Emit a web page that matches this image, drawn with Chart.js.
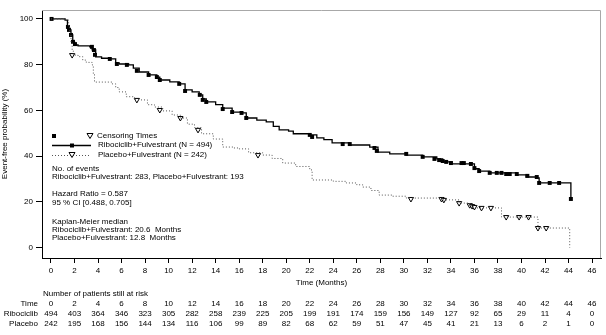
<!DOCTYPE html>
<html>
<head>
<meta charset="utf-8">
<script src="https://cdn.jsdelivr.net/npm/chart.js@4.4.0/dist/chart.umd.min.js"></script>
<style>
  html, body { margin: 0; padding: 0; background: #fff; }
  #wrap { width: 606px; height: 335px; }
</style>
</head>
<body>
<div id="wrap"><canvas id="kmChart" width="606" height="335"></canvas></div>
<script>
// x axis ticks and number-at-risk table
let xTicks = [0, 2, 4, 6, 8, 10, 12, 14, 16, 18, 20, 22, 24, 26, 28, 30, 32, 34, 36, 38, 40, 42, 44, 46];
let yTicks = [0, 20, 40, 60, 80, 100];
let riboRisk = [494, 403, 364, 346, 323, 305, 282, 258, 239, 225, 205, 199, 191, 174, 159, 156, 149, 127, 92, 65, 29, 11, 4, 0];
let placRisk = [242, 195, 168, 156, 144, 134, 116, 106, 99, 89, 82, 68, 62, 59, 51, 47, 45, 41, 21, 13, 6, 2, 1, 0];

// Kaplan-Meier steps, Ribociclib+Fulvestrant
let riboT = [0, 0.9, 1.2, 1.4, 1.5, 1.7, 1.85, 2.0, 2.3, 3.3, 3.5, 3.8, 4.3, 4.9, 5.5, 5.8, 6.6, 7.0, 7.5, 8.3, 9.0, 9.25,
  10.1, 10.9, 11.4, 12.0, 12.6, 12.9, 13.2, 14.0, 14.6, 15.4, 16.2, 16.6, 17.5, 18.3, 18.9, 19.4, 20.2, 20.6, 22.0, 22.6,
  23.2, 23.9, 25.4, 27.1, 27.8, 28.8, 30.2, 31.6, 32.8, 33.3, 34.1, 36.0, 36.4, 37.3, 39.6, 40.4, 41.3, 41.5, 44.2, 44.2];
let riboS = [100, 100, 99.5, 97, 95.2, 93, 90, 88.6, 88.2, 87.8, 86.5, 83.4, 82.8, 82.5, 80.8, 80.3, 79.9, 78.5, 76.8, 75.5, 74.6, 73.3,
  72.5, 71.6, 69, 68.1, 66.8, 65, 63.7, 62.5, 61, 59.3, 58.9, 56.7, 55.8, 55.0, 53, 51.5, 51, 49.8, 49.3, 48,
  47.2, 45.8, 44.9, 44, 41.8, 41, 40.5, 39.7, 38.8, 37.5, 36.6, 34.5, 33.5, 32.7, 31.8, 30.9, 30.5, 28.3, 28.3, 21.3];

// Kaplan-Meier steps, Placebo+Fulvestrant
let placT = [0, 1.2, 1.5, 1.6, 1.7, 1.8, 1.9, 2.3, 2.7, 3.0, 3.5, 3.6, 3.7, 5.2, 5.5, 5.8, 6.4, 7.1, 8.2, 8.8, 9.5, 10.3,
  11.0, 11.6, 12.2, 12.8, 13.8, 14.6, 15.5, 16.0, 16.8, 18.0, 18.8, 19.7, 20.8, 22.0, 22.2, 24.0, 25.1, 26.0, 26.5, 27.2,
  27.9, 29.0, 30.2, 33.3, 34.7, 35.6, 35.8, 36.2, 38.3, 41.4, 44.1];
let placS = [100, 99.5, 97, 94, 90, 86, 84.2, 83.5, 82, 81, 79.9, 76, 72.4, 71.6, 70, 68.1, 66, 64.6, 62.5, 61.5, 59.8, 58,
  56.7, 54, 52.5, 49.8, 47.5, 44, 43.6, 43.2, 41.5, 40.5, 39, 37, 35.5, 34, 29.6, 29, 28.3, 27.5, 26.5, 25,
  23, 22.5, 21.7, 20.9, 19.5, 18.6, 18.2, 17.4, 13.4, 8.6, 0];

// censoring times
let riboCensT = [0.05, 1.44, 1.53, 1.7, 1.87, 2.04, 3.48, 3.65, 3.74, 5.0, 5.6, 6.45, 7.3, 8.3, 9.0, 9.25, 10.9, 11.4,
  12.65, 12.9, 13.2, 14.6, 15.4, 16.2, 16.6, 22.0, 22.2, 24.8, 25.4, 27.5, 27.7, 30.2, 31.6, 32.6, 33.0, 33.3, 33.6, 34.0,
  34.9, 35.1, 35.7, 36.0, 36.4, 37.3, 37.9, 38.3, 38.7, 39.0, 39.6, 40.5, 41.3, 41.5, 42.4, 43.2, 44.2];
let riboCensS = [100, 96.5, 95.2, 93, 90, 89, 87.8, 86.4, 84.3, 82.5, 80.3, 79.9, 77.3, 75.5, 74.6, 73.3, 71.6, 68.5,
  66.8, 64.6, 63.7, 60.6, 59.3, 58.9, 56.7, 49.3, 48.4, 45.3, 45.3, 43.6, 42.3, 41, 39.7, 38.8, 38.3, 37.9, 37.5, 37,
  37, 37, 36.6, 34.8, 33.5, 32.7, 32.7, 32.7, 32.2, 32.2, 32.2, 31.4, 30.9, 28.3, 28.3, 28.3, 21.3];
let placCensT = [1.8, 7.3, 9.25, 11.0, 12.5, 17.6, 30.6, 33.2, 33.4, 34.7, 35.6, 35.8, 36.0, 36.6, 37.4, 38.7, 39.8, 40.6, 41.4, 42.1];
let placCensS = [84.2, 64.6, 60.2, 56.7, 51.5, 40.5, 21.3, 21.3, 20.9, 19.5, 18.6, 18.2, 17.8, 17.4, 17.4, 13.4, 13.4, 13.4, 8.6, 8.6];

const FONT = '"Liberation Sans", Arial, sans-serif';
const INK = '#000';
const FS = 8;

function pts(t, s) {
  return t.map((v, i) => ({ x: v, y: s[i] }));
}

const kmOverlay = {
  id: 'kmOverlay',
  afterDraw(chart) {
    const ctx = chart.ctx;
    const a = chart.chartArea;
    const xs = chart.scales.x;
    ctx.save();

    // light top/right frame
    ctx.strokeStyle = '#a8a8a8';
    ctx.lineWidth = 1;
    ctx.beginPath();
    ctx.moveTo(a.left, a.top + 0.5);
    ctx.lineTo(a.right - 0.5, a.top + 0.5);
    ctx.lineTo(a.right - 0.5, a.bottom);
    ctx.stroke();

    ctx.fillStyle = INK;
    ctx.font = FS + 'px ' + FONT;
    ctx.textBaseline = 'middle';

    // legend block
    ctx.fillRect(52, 134, 4, 4);
    triangle(ctx, 90, 136);
    ctx.textAlign = 'left';
    ctx.fillText('Censoring Times', 97, 136);

    ctx.strokeStyle = INK;
    ctx.lineWidth = 1.3;
    ctx.beginPath();
    ctx.moveTo(52, 145.5);
    ctx.lineTo(91, 145.5);
    ctx.stroke();
    ctx.fillRect(70, 143.5, 4, 4);
    ctx.fillText('Ribociclib+Fulvestrant (N = 494)', 98, 145);

    ctx.strokeStyle = '#555';
    ctx.lineWidth = 1;
    ctx.setLineDash([1, 2]);
    ctx.beginPath();
    ctx.moveTo(52, 155.5);
    ctx.lineTo(91, 155.5);
    ctx.stroke();
    ctx.setLineDash([]);
    triangle(ctx, 72, 155);
    ctx.fillText('Placebo+Fulvestrant (N = 242)', 98, 155);

    ctx.fillText('No. of events', 52, 169);
    ctx.fillText('Ribociclib+Fulvestrant: 283, Placebo+Fulvestrant: 193', 52, 177);
    ctx.fillText('Hazard Ratio = 0.587', 52, 194);
    ctx.fillText('95 % CI [0.488, 0.705]', 52, 203);
    ctx.fillText('Kaplan-Meier median', 52, 222);
    ctx.fillText('Ribociclib+Fulvestrant: 20.6  Months', 52, 230);
    ctx.fillText('Placebo+Fulvestrant: 12.8  Months', 52, 238);

    // x axis title
    ctx.textAlign = 'center';
    ctx.fillText('Time (Months)', (a.left + a.right) / 2, 283);

    // number at risk
    ctx.textAlign = 'left';
    ctx.fillText('Number of patients still at risk', 43, 294);
    const rows = [['Time', xTicks, 304], ['Ribociclib', riboRisk, 314], ['Placebo', placRisk, 324]];
    rows.forEach(([lab, vals, y]) => {
      ctx.textAlign = 'right';
      ctx.fillText(lab, 38, y);
      ctx.textAlign = 'center';
      vals.forEach((v, i) => ctx.fillText(String(v), xs.getPixelForValue(xTicks[i]), y));
    });
    ctx.restore();
  }
};

function triangle(ctx, x, y) {
  ctx.save();
  ctx.fillStyle = '#fff';
  ctx.strokeStyle = INK;
  ctx.lineWidth = 1;
  ctx.beginPath();
  ctx.moveTo(x - 3, y - 2.5);
  ctx.lineTo(x + 3, y - 2.5);
  ctx.lineTo(x, y + 2.5);
  ctx.closePath();
  ctx.fill();
  ctx.stroke();
  ctx.restore();
}

let ctx = document.getElementById('kmChart').getContext('2d');

let chart = new Chart(ctx, {
  type: 'scatter',
  data: {
    datasets: [
      {
        label: 'Placebo+Fulvestrant',
        data: pts(placT, placS),
        showLine: true,
        stepped: 'before',
        borderColor: '#555',
        borderWidth: 1,
        borderDash: [1, 2],
        pointRadius: 0
      },
      {
        label: 'Ribociclib+Fulvestrant',
        data: pts(riboT, riboS),
        showLine: true,
        stepped: 'before',
        borderColor: INK,
        borderWidth: 1.3,
        pointRadius: 0
      },
      {
        label: 'Ribociclib censored',
        data: pts(riboCensT, riboCensS),
        pointStyle: 'rect',
        pointRadius: 2.8,
        backgroundColor: INK,
        borderColor: INK,
        borderWidth: 0
      },
      {
        label: 'Placebo censored',
        data: pts(placCensT, placCensS),
        pointStyle: 'triangle',
        rotation: 180,
        pointRadius: 3,
        backgroundColor: '#fff',
        borderColor: INK,
        borderWidth: 1
      }
    ]
  },
  options: {
    responsive: false,
    animation: false,
    layout: { padding: { left: 0, right: 4, top: 10, bottom: 0 } },
    plugins: {
      legend: { display: false },
      tooltip: { enabled: false }
    },
    scales: {
      x: {
        type: 'linear',
        min: -0.764,
        max: 46.76,
        afterFit: s => { s.height = 77; },
        afterBuildTicks: s => { s.ticks = xTicks.map(v => ({ value: v })); },
        grid: { display: true, drawOnChartArea: false, drawTicks: true, tickLength: 5, tickColor: INK },
        border: { color: INK, width: 1 },
        ticks: { color: INK, font: { family: FONT, size: FS }, padding: 3, maxRotation: 0, autoSkip: false }
      },
      y: {
        min: -4.5,
        max: 103.9,
        afterFit: s => { s.width = 42; },
        afterBuildTicks: s => { s.ticks = yTicks.map(v => ({ value: v })); },
        grid: { display: true, drawOnChartArea: false, drawTicks: true, tickLength: 6, tickColor: INK },
        border: { color: INK, width: 1 },
        ticks: { color: INK, font: { family: FONT, size: FS }, padding: 3 },
        title: {
          display: true,
          text: 'Event-free probability (%)',
          color: INK,
          font: { family: FONT, size: FS },
          padding: { top: 0, bottom: 0 }
        }
      }
    }
  },
  plugins: [kmOverlay]
});
</script>
</body>
</html>
